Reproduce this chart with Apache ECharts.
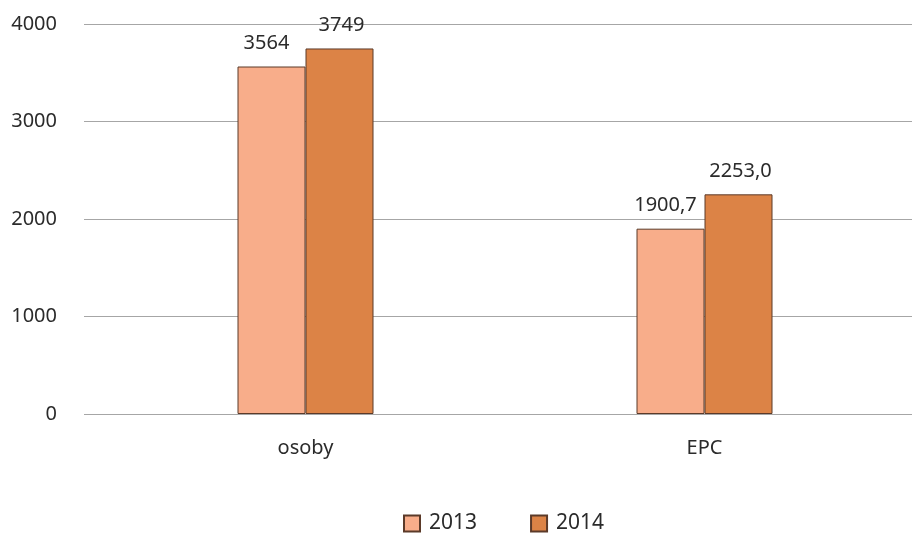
<!DOCTYPE html>
<html>
<head>
<meta charset="utf-8">
<script src="https://cdn.jsdelivr.net/npm/echarts@6.0.0/dist/echarts.min.js"></script>
<style>
  html, body { margin: 0; padding: 0; background: #fff; }
  #chart { width: 912px; height: 536px; }
</style>
</head>
<body>
<div id="chart"></div>
<script>
const categories = ['osoby', 'EPC'];
const seriesNames = ['2013', '2014'];
const values2013 = [3564, 1900.7];
const values2014 = [3749, 2253.0];
const decimals = [0, 1];

const chart = echarts.init(document.getElementById('chart'));

const font = '"Noto Sans", "Open Sans", sans-serif';
const textColor = '#2b2b2b';

function fmt(p) {
    return p.value.toFixed(decimals[p.dataIndex]).replace('.', ',');
}

function barSeries(name, data, color, offset) {
    return {
        name: name,
        type: 'bar',
        xAxisIndex: 0,
        yAxisIndex: 0,
        data: data,
        barWidth: 68,
        barGap: '0%',
        itemStyle: { color: color, borderColor: '#5b3a29', borderWidth: 1 },
        label: {
            show: true,
            position: 'top',
            distance: 13,
            offset: [offset, 0],
            formatter: fmt,
            fontFamily: font,
            fontSize: 20,
            color: textColor
        }
    };
}

const option = {
    animation: false,
    grid: [
        { left: 106, right: 8, top: 24, bottom: 122 },
        { left: 84, right: 0, top: 24, bottom: 122 }
    ],
    legend: {
        left: 403,
        bottom: 2,
        padding: 0,
        itemWidth: 16,
        itemHeight: 16,
        itemGap: 53,
        icon: 'rect',
        textStyle: { fontFamily: font, fontSize: 21, color: textColor, padding: [0, 0, 0, 4] },
        data: seriesNames
    },
    xAxis: [
        {
            type: 'category',
            gridIndex: 0,
            data: categories,
            axisLine: { show: false },
            axisTick: { show: false },
            axisLabel: { margin: 24, fontFamily: font, fontSize: 20, color: textColor }
        },
        {
            type: 'category',
            gridIndex: 1,
            data: categories,
            show: false
        }
    ],
    yAxis: [
        {
            type: 'value',
            gridIndex: 0,
            min: 0,
            max: 4000,
            interval: 1000,
            axisLine: { show: false },
            axisTick: { show: false },
            axisLabel: { show: false },
            splitLine: { show: false }
        },
        {
            type: 'value',
            gridIndex: 1,
            min: 0,
            max: 4000,
            interval: 1000,
            axisLine: { show: false },
            axisTick: { show: false },
            axisLabel: {
                margin: 27,
                formatter: v => String(v),
                fontFamily: font,
                fontSize: 20,
                color: textColor
            },
            splitLine: { lineStyle: { color: '#a6a6a6', width: 1 } }
        }
    ],
    series: [
        barSeries(seriesNames[0], values2013, '#f8ad8a', -5),
        barSeries(seriesNames[1], values2014, '#dc8346', 2)
    ]
};

chart.setOption(option);
</script>
</body>
</html>
